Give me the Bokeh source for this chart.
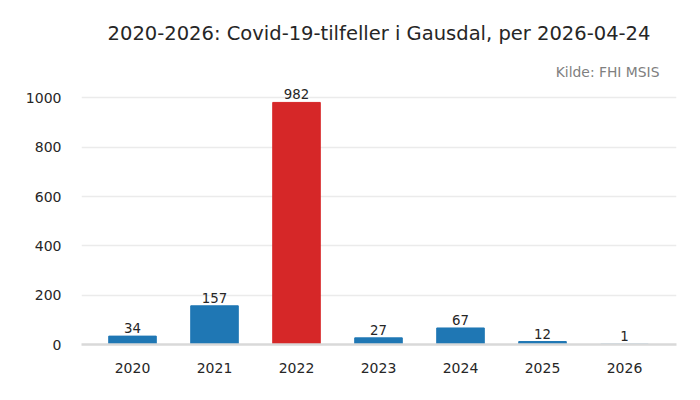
from bokeh.plotting import figure
from bokeh.models import ColumnDataSource, Title, FixedTicker, LabelSet, Range1d
from bokeh.core.properties import value
from bokeh.embed import file_html
from bokeh.resources import INLINE

years = [2020, 2021, 2022, 2023, 2024, 2025, 2026]
cases = [34, 157, 982, 27, 67, 12, 1]
colors = ["#1f77b4", "#1f77b4", "#d62728", "#1f77b4", "#1f77b4", "#1f77b4", "#1f77b4"]
labels = [str(c) for c in cases]
y_ticks = [0, 200, 400, 600, 800, 1000]

FONT = "DejaVu Sans"
src = ColumnDataSource(dict(x=years, top=cases, color=colors, label=labels))

p = figure(width=684, height=384, output_backend="svg", toolbar_location=None,
           x_range=Range1d(2019.378, 2026.634), y_range=Range1d(0, 1075),
           min_border_left=81, min_border_right=8, min_border_bottom=40, min_border_top=79)
p.vbar(x="x", top="top", width=0.58, color="color", source=src)
p.add_layout(LabelSet(x="x", y="top", text="label", source=src, text_align="center",
                      text_baseline="bottom", y_offset=3, text_font_size="10pt",
                      text_color="#262626", text_font=value(FONT)))

p.add_layout(Title(text="Kilde: FHI MSIS", align="right", text_font_size="10.4pt",
                   text_font_style="normal", text_color="#808080", text_font=FONT,
                   standoff=0, offset=17), "above")
p.add_layout(Title(text="2020-2026: Covid-19-tilfeller i Gausdal, per 2026-04-24", align="center",
                   text_font_size="14.65pt", text_font_style="normal", text_color="#262626",
                   text_font=FONT, standoff=34), "above")

p.xaxis.ticker = FixedTicker(ticks=years)
p.yaxis.ticker = FixedTicker(ticks=y_ticks)
for ax in (p.xaxis[0], p.yaxis[0]):
    ax.major_tick_line_color = None
    ax.minor_tick_line_color = None
    ax.major_label_text_font = FONT
    ax.major_label_text_font_size = "10.5pt"
    ax.major_label_text_color = "#262626"
p.yaxis.axis_line_color = None
p.xaxis.axis_line_color = "#d9d9d9"
p.xaxis.axis_line_width = 2.5
p.xaxis.major_label_standoff = 12
p.yaxis.major_label_standoff = 14
p.xgrid.grid_line_color = None
p.ygrid.grid_line_color = "#ebebeb"
p.ygrid.grid_line_width = 1.5
p.outline_line_color = None
p.background_fill_color = "white"
p.border_fill_color = "white"

open("out.html", "w").write(file_html(p, INLINE))
